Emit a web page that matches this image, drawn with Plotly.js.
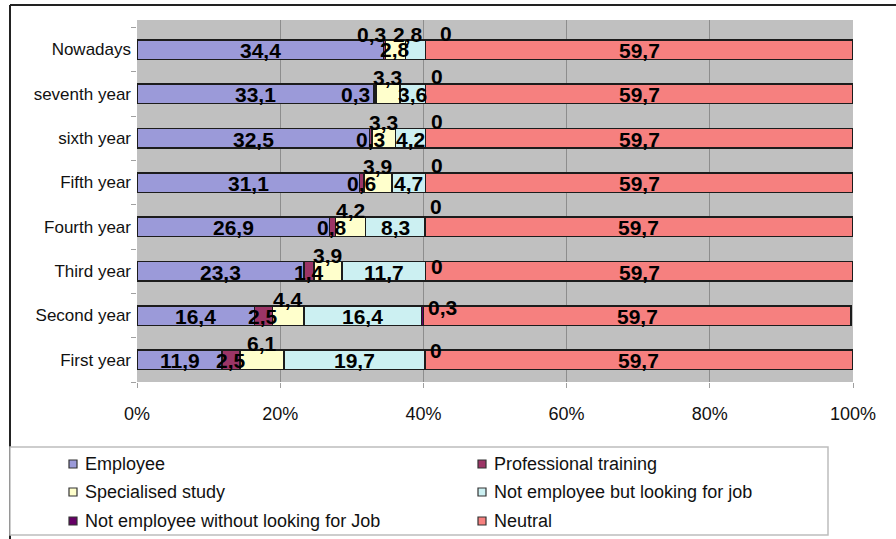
<!DOCTYPE html>
<html>
<head>
<meta charset="utf-8">
<script src="https://cdn.plot.ly/plotly-3.0.1.min.js"></script>
<style>
  html, body { margin: 0; padding: 0; background: #fff; }
  #chart { width: 896px; height: 539px; }
</style>
</head>
<body>
<div id="chart"></div>
<script>
// Year-by-year situation of graduates (percent of the cohort)
const categories = ['First year', 'Second year', 'Third year', 'Fourth year',
                    'Fifth year', 'sixth year', 'seventh year', 'Nowadays'];

const employee             = [11.9, 16.4, 23.3, 26.9, 31.1, 32.5, 33.1, 34.4];
const professionalTraining = [2.5, 2.5, 1.4, 0.8, 0.6, 0.3, 0.3, 0.3];
const specialisedStudy     = [6.1, 4.4, 3.9, 4.2, 3.9, 3.3, 3.3, 2.8];
const lookingForJob        = [19.7, 16.4, 11.7, 8.3, 4.7, 4.2, 3.6, 2.8];
const notLookingForJob     = [0, 0.3, 0, 0, 0, 0, 0, 0];
const neutral              = [59.7, 59.7, 59.7, 59.7, 59.7, 59.7, 59.7, 59.7];

const seriesNames = ['Employee', 'Professional training', 'Specialised study',
                     'Not employee but looking for job',
                     'Not employee without looking for Job', 'Neutral'];
const seriesValues = [employee, professionalTraining, specialisedStudy,
                      lookingForJob, notLookingForJob, neutral];
const seriesColors = ['#9b9ad9', '#9c3566', '#ffffcc', '#ccf0f2', '#660066', '#f6807f'];

const tickValues = [0, 20, 40, 60, 80, 100];

// ---- geometry of the plot area (pixels) ----
const W = 896, H = 539;
const M = { l: 137, r: 43, t: 20, b: 157 };
const PW = W - M.l - M.r, PH = H - M.t - M.b;
const px = x => (x - M.l) / PW;          // pixel -> paper x
const py = y => (H - M.b - y) / PH;      // pixel -> paper y

const FONT = 'Arial, "Liberation Sans", sans-serif';

// where each series puts its value label: inside the bar, lifted above it,
// or just after the end of the segment (for the tiny "without looking" share)
const labelMode = ['center', 'center', 'above', 'center', 'after', 'center'];
const LIFT = 16;
// individual label adjustments [dx, dy] in pixels
const nudges = {
  'Professional training|seventh year': [-20, 0],
  'Professional training|Nowadays': [-13, LIFT],
  'Specialised study|Nowadays': [0, -LIFT],
  'Not employee but looking for job|Nowadays': [-8, LIFT],
  'Not employee without looking for Job|Nowadays': [9, -1],
  'Not employee without looking for Job|Fourth year': [0, 3],
  'Not employee without looking for Job|Third year': [0, -12],
  'Not employee without looking for Job|Second year': [0, -9],
  'Not employee without looking for Job|First year': [0, -8]
};

const fmt = v => String(v).replace('.', ',');

const traces = seriesNames.map((name, i) => ({
  type: 'bar',
  orientation: 'h',
  name: name,
  y: categories,
  x: seriesValues[i],
  marker: { color: seriesColors[i], line: { color: '#1c1c1c', width: 1.5 } },
  hoverinfo: 'skip',
  showlegend: false
}));

const annotations = [];
categories.forEach((cat, ci) => {
  let start = 0;
  seriesValues.forEach((vals, si) => {
    const v = vals[ci];
    const end = start + v;
    const mode = labelMode[si];
    const key = seriesNames[si] + '|' + cat;
    const [dx, dy] = nudges[key] || [0, 0];
    const a = {
      xref: 'x', yref: 'y', y: cat,
      text: fmt(v), showarrow: false,
      font: { family: FONT, size: 21, color: '#000', weight: 'bold' },
      yanchor: 'middle'
    };
    if (mode === 'after') {
      a.x = end; a.xanchor = 'left'; a.xshift = 3 + dx; a.yshift = 17 + dy;
    } else {
      a.x = (start + end) / 2; a.xanchor = 'center'; a.xshift = dx;
      a.yshift = (mode === 'above' ? LIFT : -1) + dy;
    }
    annotations.push(a);
    start = end;
  });
});

// ---- legend box drawn beneath the chart, two columns ----
const shapes = [
  // chart frame (top and left edges)
  { type: 'line', xref: 'paper', yref: 'paper', x0: px(10), x1: px(W + 5), y0: py(5), y1: py(5),
    line: { color: '#222', width: 2 } },
  { type: 'line', xref: 'paper', yref: 'paper', x0: px(10), x1: px(10), y0: py(5), y1: py(H + 5),
    line: { color: '#222', width: 2 } },
  // legend frame
  { type: 'rect', xref: 'paper', yref: 'paper', x0: px(10), x1: px(828), y0: py(535), y1: py(447),
    line: { color: '#bdbdbd', width: 1.5 }, fillcolor: '#fff' }
];
const legendCols = [69, 478];
const legendRows = [464, 492, 521];
seriesNames.forEach((name, i) => {
  const cx = legendCols[i % 2], cy = legendRows[Math.floor(i / 2)];
  shapes.push({
    type: 'rect', xref: 'paper', yref: 'paper',
    x0: px(cx), x1: px(cx + 8), y0: py(cy + 4), y1: py(cy - 4),
    fillcolor: seriesColors[i], line: { color: '#333', width: 1.2 }
  });
  annotations.push({
    xref: 'paper', yref: 'paper', x: px(cx + 14), y: py(cy),
    xanchor: 'left', yanchor: 'middle', showarrow: false, text: name,
    font: { family: FONT, size: 18, color: '#111' }
  });
});

const layout = {
  width: W, height: H,
  margin: M,
  barmode: 'stack',
  bargap: 0.56,
  paper_bgcolor: '#fff',
  plot_bgcolor: '#c0c0c0',
  showlegend: false,
  xaxis: {
    range: [0, 100],
    tickvals: tickValues,
    ticktext: tickValues.map(v => v + '%'),
    showgrid: true, gridcolor: '#8d8d8d', gridwidth: 1,
    zeroline: false, showline: false,
    ticks: 'outside', ticklen: 5, tickcolor: '#a0a0a0',
    ticklabelstandoff: 10,
    tickfont: { family: FONT, size: 18, color: '#111' },
    fixedrange: true
  },
  yaxis: {
    type: 'category',
    categoryorder: 'array', categoryarray: categories,
    showgrid: false, zeroline: false, showline: false,
    ticks: 'outside', ticklen: 5, tickcolor: '#a0a0a0', tickson: 'boundaries',
    ticklabelstandoff: 5,
    tickfont: { family: FONT, size: 17, color: '#111' },
    fixedrange: true
  },
  annotations: annotations,
  shapes: shapes
};

Plotly.newPlot('chart', traces, layout, { displayModeBar: false, staticPlot: true });
</script>
</body>
</html>
